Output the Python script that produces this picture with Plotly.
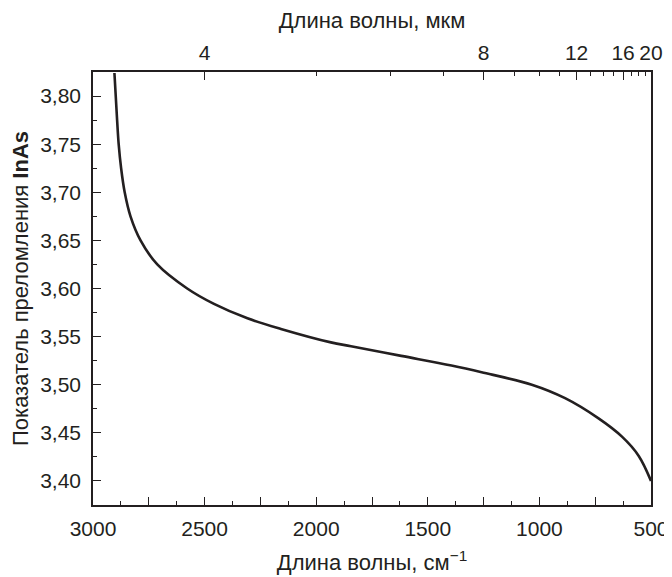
import plotly.graph_objects as go

# Data
wavenumber = [2904, 2892, 2885, 2874, 2858, 2832, 2787, 2712, 2578, 2458, 2308,
              2158, 1934, 1844, 1619, 1394, 1259, 1034, 885, 735, 630, 555, 500]
n_inas = [3.824, 3.775, 3.750, 3.725, 3.700, 3.675, 3.650, 3.625, 3.600, 3.584, 3.569,
          3.558, 3.544, 3.540, 3.530, 3.520, 3.513, 3.500, 3.486, 3.465, 3.446, 3.426, 3.400]

bottom_major = [3000, 2750, 2500, 2250, 2000, 1750, 1500, 1250, 1000, 750, 500]
bottom_text = ["3000", "", "2500", "", "2000", "", "1500", "", "1000", "", "500"]
bottom_minor = [2875, 2625, 2375, 2125, 1875, 1625, 1375, 1125, 875, 625]

top_major_um = [4, 8, 12, 16, 20]
top_minor_um = [5, 6, 7, 9, 10, 11, 13, 14, 15, 17, 18, 19]

y_major = [3.40, 3.45, 3.50, 3.55, 3.60, 3.65, 3.70, 3.75, 3.80]

INK = "#231f20"
FONT = "Liberation Sans, Arial, sans-serif"
FS = 21
TFS = 22

fig = go.Figure()
fig.add_trace(go.Scatter(x=wavenumber, y=n_inas, mode="lines",
                         line=dict(color=INK, width=2.6, shape="spline", smoothing=1.0),
                         showlegend=False, hoverinfo="skip", cliponaxis=True))
fig.add_trace(go.Scatter(x=wavenumber, y=n_inas, mode="lines", xaxis="x2",
                         line=dict(width=0), opacity=0, showlegend=False, hoverinfo="skip"))

fig.update_layout(
    width=672, height=577,
    margin=dict(l=85, r=29, t=64, b=80),
    paper_bgcolor="white", plot_bgcolor="white",
    separators=", ",
    font=dict(family=FONT, size=FS, color=INK),
    xaxis=dict(
        range=[3000, 500], showgrid=False, zeroline=False, automargin=False,
        showline=True, linecolor=INK, linewidth=1.5, mirror=False,
        tickmode="array", tickvals=bottom_major, ticktext=bottom_text,
        ticks="inside", ticklen=8, tickwidth=1.3, tickcolor=INK,
        tickfont=dict(size=FS, color=INK), ticklabelstandoff=4,
        minor=dict(tickmode="array", tickvals=bottom_minor, ticks="inside",
                   ticklen=4.5, tickwidth=1.3, tickcolor=INK, showgrid=False),
        title=dict(text="Длина волны, см<sup>−1</sup>", font=dict(size=TFS), standoff=16),
    ),
    xaxis2=dict(
        range=[3000, 500], overlaying="x", side="top", anchor="y",
        showgrid=False, zeroline=False, automargin=False,
        showline=True, linecolor=INK, linewidth=1.5,
        tickmode="array", tickvals=[10000 / v for v in top_major_um],
        ticktext=[str(v) for v in top_major_um],
        ticks="inside", ticklen=8, tickwidth=1.3, tickcolor=INK,
        tickfont=dict(size=FS, color=INK), ticklabelstandoff=2,
        minor=dict(tickmode="array", tickvals=[10000 / v for v in top_minor_um],
                   ticks="inside", ticklen=4.5, tickwidth=1.3, tickcolor=INK, showgrid=False),
        title=dict(text="Длина волны, мкм", font=dict(size=TFS), standoff=13),
    ),
    yaxis=dict(
        range=[3.375, 3.825], showgrid=False, zeroline=False, automargin=False,
        showline=True, linecolor=INK, linewidth=1.5, mirror=True,
        tickmode="array", tickvals=y_major, tickformat=".2f",
        ticks="inside", ticklen=8, tickwidth=1.3, tickcolor=INK,
        tickfont=dict(size=FS, color=INK), ticklabelstandoff=6,
        minor=dict(dtick=0.025, tick0=3.375, ticks="inside", ticklen=4.5,
                   tickwidth=1.3, tickcolor=INK, showgrid=False),
        title=dict(text="Показатель преломления <b>InAs</b>", font=dict(size=TFS), standoff=10),
    ),
)

fig.write_html("out.html")
